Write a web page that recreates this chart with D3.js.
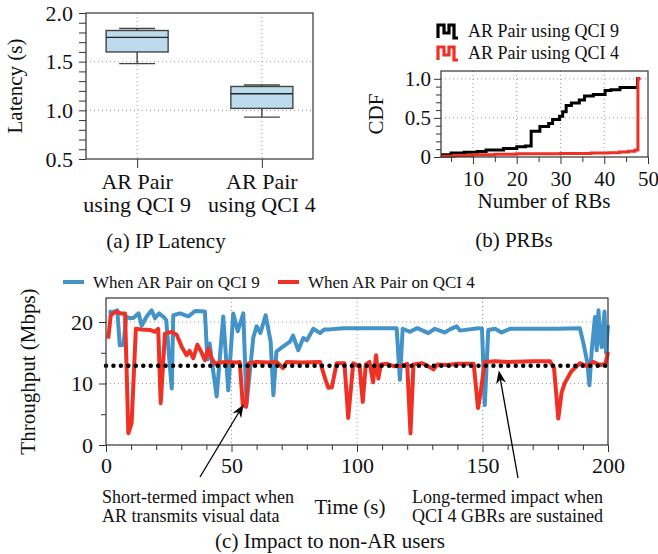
<!DOCTYPE html>
<html>
<head>
<meta charset="utf-8">
<script src="https://cdn.jsdelivr.net/npm/d3@7"></script>
<style>
body { margin: 0; background: #fff; }
svg text { font-family: "Liberation Serif", "Times New Roman", serif; fill: #111; }
</style>
</head>
<body>
<svg id="fig" width="658" height="554"></svg>
<script>
// ---- (a) IP latency box plot ----
var latCats = [["AR Pair", "using QCI 9"], ["AR Pair", "using QCI 4"]];
var latMin = [1.48, 0.93];
var latQ1 = [1.60, 1.02];
var latMed = [1.75, 1.17];
var latQ3 = [1.82, 1.245];
var latMax = [1.84, 1.26];
var latTicks = [0.5, 1.0, 1.5, 2.0];

// ---- (b) PRB CDF ----
var rbQci9 = [2.7, 5, 8, 11, 13, 17, 20, 22, 23.3, 25.3, 27.3, 28.2, 29.8, 30.5, 31.3, 32.5, 34.3, 35.5, 37.5, 40.2, 41.5, 43.6, 47.6, 48.2];
var cdfQci9 = [0.03, 0.05, 0.06, 0.07, 0.09, 0.11, 0.13, 0.14, 0.33, 0.39, 0.43, 0.48, 0.52, 0.58, 0.66, 0.69, 0.73, 0.78, 0.80, 0.85, 0.86, 0.89, 1.0, 1.0];
var rbQci4 = [2.7, 6, 10, 15, 20, 30, 37, 41, 43.5, 45.5, 47, 47.7, 48.3];
var cdfQci4 = [0.01, 0.02, 0.03, 0.035, 0.04, 0.045, 0.05, 0.055, 0.065, 0.075, 0.09, 1.0, 1.0];
var rbTicks = [10, 20, 30, 40, 50];
var cdfTicks = [0, 0.5, 1.0];
var cdfNames = ["AR Pair using QCI 9", "AR Pair using QCI 4"];

// ---- (c) throughput of non-AR users ----
var thrQci9 = [
  [1,21.7],[2.5,21.6],[4.5,21.9],[5.5,16.2],[7,16.3],[8,20.9],[9.5,20.6],[11,20.7],[13,21.4],[14.2,19.4],
  [16.2,20.9],[18.2,21.9],[19.5,20.6],[21.1,21.4],[23,20.8],[24,20.3],[25.2,14],[26.2,9.2],[26.8,21.1],[29.5,21.4],
  [32.8,20.9],[35.5,21.8],[39.4,21.7],[40.4,13.9],[41.3,16.5],[42.3,13.2],[44.1,7.9],[46.7,20.9],[48.7,8.9],[50.7,21.4],
  [52.5,18.5],[54.7,21.4],[56,6.6],[58.7,17.5],[60,19.3],[61.5,18.2],[63.6,21.1],[65.6,16.8],[66.7,8.1],[67.9,15.2],
  [70.5,16],[73.3,16.8],[74.5,17.8],[76.6,15.4],[78.6,17.4],[80,17.0],[82.6,18.9],[85.3,18.2],[87,18.8],[89.2,18.8],
  [94.5,19],[100,19],[110,19],[115.8,19],[117.1,10.6],[118.2,18.9],[121.1,18.4],[124,19],[128.4,18.2],[131,18.9],
  [134.9,18.3],[137,18.8],[139.7,19.3],[141,18.6],[148.3,19],[149.8,18.9],[150.9,6.5],[152.3,18.7],[155,18.9],[157.6,18.3],
  [161,18.9],[170,18.9],[180,18.9],[188.8,19],[190.5,16],[191.8,13.3],[192.6,9.7],[193.5,15.3],[194.8,20.8],[195.5,15.4],
  [196.2,21.9],[197,17],[197.5,15.9],[198.6,21.7],[199.2,15],[200,19.5]
];
var thrQci4 = [
  [0.9,17.3],[1.9,21.1],[4,21.7],[5.8,21.4],[7.6,21.4],[8.9,1.9],[10.2,3.5],[11.9,18.9],[14,18.8],[17.5,18.7],
  [19.5,18.4],[20.8,18.9],[21.8,6.8],[23.5,18.1],[26.2,18.4],[28.2,17.9],[30.1,16],[32.1,14.6],[33.3,15.3],[34.8,14.1],
  [36.4,16.3],[38,15.1],[39.4,13.8],[40.8,15.7],[42,14.2],[43.4,13.2],[45,13.4],[48,13.5],[52,13.4],[53.3,13.5],
  [54.5,6.5],[55.8,6.2],[56.9,13.3],[60,13.5],[65,13.4],[68,13.5],[70.5,12.5],[72,13.5],[78,13.4],[85.3,13.5],
  [87.3,10.8],[88.6,9.3],[90,9.4],[91.9,13.3],[95,13.3],[96.5,4.4],[98.5,13.3],[100,12.9],[101,13.0],[102.3,7],
  [103.5,13.1],[105,13.5],[106.4,10.2],[107.6,14.6],[108.5,10.8],[109.5,13.1],[112,13.2],[115,12.8],[118,12.9],[120,13.2],
  [121.3,1.9],[122.5,13.1],[126,13.3],[128,12.9],[130.5,12.3],[132,13.1],[136,13.0],[140,13.2],[146.5,13.2],[148.2,6],
  [149.1,8.1],[150.9,13.5],[155,13.6],[160,13.5],[170,13.6],[176.9,13.6],[178.5,12.5],[180.2,4.3],[181.5,8.5],[182.8,10.1],
  [185.4,12],[188.8,13.3],[191.8,12.8],[194,13.5],[197,13.0],[199,13.2],[200,15.1]
];
var thrRef = 12.9;
var thrNames = ["When AR Pair on QCI 9", "When AR Pair on QCI 4"];
var timeTicks = [0, 50, 100, 150, 200];
var thrTicks = [0, 10, 20];

var BLUE = '#4393c8', RED = '#ee3124', AX = '#333', GRID = '#999';
var svg = d3.select('#fig');

function frame(x0, y0, x1, y1) {
  svg.append('rect')
    .attr('x', x0).attr('y', y0)
    .attr('width', x1 - x0).attr('height', y1 - y0)
    .attr('fill', 'none').attr('stroke', AX).attr('stroke-width', 1.2);
}
function fixAxis(g, fs) {
  g.select('.domain').remove();
  g.selectAll('.tick line').attr('stroke', AX).attr('stroke-width', 1);
  g.selectAll('.tick text').style('font-size', fs + 'px').attr('fill', '#111');
  return g;
}
function minor(vals, major) {
  return vals.filter(function(v) {
    return !major.some(function(m) { return Math.abs(m - v) < 1e-6; });
  });
}
function grid(x0, x1, y0, y1, xs, ys) {
  var g = svg.append('g').attr('stroke', GRID).attr('stroke-width', 1).attr('stroke-dasharray', '1,3');
  xs.forEach(function(x) { g.append('line').attr('x1', x).attr('x2', x).attr('y1', y0).attr('y2', y1); });
  ys.forEach(function(y) { g.append('line').attr('x1', x0).attr('x2', x1).attr('y1', y).attr('y2', y); });
}
function label(x, y, txt, fs, rot, anchor) {
  var t = svg.append('text')
    .attr('text-anchor', anchor || 'middle')
    .style('font-size', fs + 'px')
    .text(txt);
  if (rot) t.attr('transform', 'translate(' + x + ',' + y + ') rotate(-90)');
  else t.attr('x', x).attr('y', y);
  return t;
}

// ================= (a) =================
var aL = 86, aR = 313, aT = 13, aB = 159;
var ax = d3.scalePoint().domain(d3.range(latCats.length)).range([aL, aR]).padding(0.41);
var ay = d3.scaleLinear().domain([0.5, 2.0]).range([aB, aT]);

grid(aL, aR, aT, aB, latCats.map(function(d, i) { return ax(i); }), [ay(1.0), ay(1.5)]);

var boxW = 62, capW = 36;
latCats.forEach(function(c, i) {
  var cx = ax(i), g = svg.append('g').attr('stroke', '#444').attr('stroke-width', 1.4);
  g.append('line').attr('x1', cx).attr('x2', cx).attr('y1', ay(latMin[i])).attr('y2', ay(latQ1[i]));
  g.append('line').attr('x1', cx).attr('x2', cx).attr('y1', ay(latQ3[i])).attr('y2', ay(latMax[i]));
  g.append('line').attr('x1', cx - capW / 2).attr('x2', cx + capW / 2).attr('y1', ay(latMin[i])).attr('y2', ay(latMin[i]));
  g.append('line').attr('x1', cx - capW / 2).attr('x2', cx + capW / 2).attr('y1', ay(latMax[i])).attr('y2', ay(latMax[i]));
  g.append('rect').attr('x', cx - boxW / 2).attr('y', ay(latQ3[i]))
    .attr('width', boxW).attr('height', ay(latQ1[i]) - ay(latQ3[i]))
    .attr('fill', '#bcdcee');
  g.append('line').attr('x1', cx - boxW / 2).attr('x2', cx + boxW / 2)
    .attr('y1', ay(latMed[i])).attr('y2', ay(latMed[i])).attr('stroke', '#222');
});

fixAxis(svg.append('g').attr('transform', 'translate(' + aL + ',0)')
  .call(d3.axisLeft(ay).tickValues(latTicks).tickFormat(d3.format('.1f')).tickSize(7).tickPadding(6)), 22);
fixAxis(svg.append('g').attr('transform', 'translate(' + aL + ',0)')
  .call(d3.axisLeft(ay).tickValues(minor(d3.range(0.5, 2.01, 0.1), latTicks)).tickFormat('').tickSize(7)), 22);
fixAxis(svg.append('g').attr('transform', 'translate(0,' + aB + ')')
  .call(d3.axisBottom(ax).tickFormat('').tickSize(9)), 22);
latCats.forEach(function(c, i) {
  var t = svg.append('text').attr('text-anchor', 'middle').style('font-size', '22px');
  t.append('tspan').attr('x', ax(i)).attr('y', 189).text(c[0]);
  t.append('tspan').attr('x', ax(i)).attr('y', 212).text(c[1]);
});
frame(aL, aT, aR, aB);
label(22, (aT + aB) / 2, 'Latency (s)', 21, true);
label(166, 248, '(a) IP Latency', 21);

// ================= (b) =================
var bL = 441, bR = 648, bT = 71, bB = 157;
var bx = d3.scaleLinear().domain([2.7, 50]).range([bL, bR]);
var by = d3.scaleLinear().domain([0, 1.1]).range([bB, bT]);

grid(bL, bR, bT, bB, [10, 20, 30, 40].map(bx), [0.5, 1.0].map(by));

var stepLine = d3.line().curve(d3.curveStepAfter)
  .x(function(d) { return bx(d[0]); }).y(function(d) { return by(d[1]); });
var cdfSeries = [
  { rb: rbQci9, cdf: cdfQci9, color: '#000' },
  { rb: rbQci4, cdf: cdfQci4, color: RED }
];
cdfSeries.forEach(function(s) {
  svg.append('path')
    .attr('d', stepLine(s.rb.map(function(r, i) { return [r, s.cdf[i]]; })))
    .attr('fill', 'none').attr('stroke', s.color).attr('stroke-width', 3);
});

fixAxis(svg.append('g').attr('transform', 'translate(' + bL + ',0)')
  .call(d3.axisLeft(by).tickValues(cdfTicks).tickFormat(function(d) { return d === 0 ? '0' : d3.format('.1f')(d); }).tickSize(7).tickPadding(3)), 21);
fixAxis(svg.append('g').attr('transform', 'translate(' + bL + ',0)')
  .call(d3.axisLeft(by).tickValues(minor(d3.range(0, 1.01, 0.1), cdfTicks)).tickFormat('').tickSize(5)), 21);
fixAxis(svg.append('g').attr('transform', 'translate(0,' + bB + ')')
  .call(d3.axisBottom(bx).tickValues(rbTicks).tickSize(7).tickPadding(7)), 21);
fixAxis(svg.append('g').attr('transform', 'translate(0,' + bB + ')')
  .call(d3.axisBottom(bx).tickValues([5, 15, 25, 35, 45]).tickFormat('').tickSize(5)), 21);
frame(bL, bT, bR, bB);
label(383, (bT + bB) / 2, 'CDF', 21, true);
label(544, 208, 'Number of RBs', 21);
label(514, 247, '(b) PRBs', 21);

cdfSeries.forEach(function(s, i) {
  var y0 = 25 + i * 22;
  svg.append('path')
    .attr('d', 'M438,' + (y0 + 13) + 'V' + y0 + 'H444V' + (y0 + 8) + 'H449V' + y0 + 'H454V' + (y0 + 13) + 'H458')
    .attr('fill', 'none').attr('stroke', s.color).attr('stroke-width', 3.2);
  label(468, y0 + 12, cdfNames[i], 18, false, 'start');
});

// ================= (c) =================
var cL = 106, cR = 608, cT = 298, cB = 445;
var cx = d3.scaleLinear().domain([0, 200]).range([cL, cR]);
var cy = d3.scaleLinear().domain([0, 24]).range([cB, cB - 24 * 6.15]);

grid(cL, cR, cT, cB, [50, 100, 150].map(cx), [10, 20].map(cy));

var thrLine = d3.line().x(function(d) { return cx(d[0]); }).y(function(d) { return cy(d[1]); });
[[thrQci9, BLUE], [thrQci4, RED]].forEach(function(s) {
  svg.append('path').attr('d', thrLine(s[0]))
    .attr('fill', 'none').attr('stroke', s[1]).attr('stroke-width', 4).attr('stroke-linejoin', 'round');
});
svg.append('line')
  .attr('x1', cx(0)).attr('x2', cx(200)).attr('y1', cy(thrRef)).attr('y2', cy(thrRef))
  .attr('stroke', '#000').attr('stroke-width', 4.5)
  .attr('stroke-linecap', 'round').attr('stroke-dasharray', '0,7.45');

fixAxis(svg.append('g').attr('transform', 'translate(' + cL + ',0)')
  .call(d3.axisLeft(cy).tickValues(thrTicks).tickSize(7).tickPadding(6)), 22);
fixAxis(svg.append('g').attr('transform', 'translate(' + cL + ',0)')
  .call(d3.axisLeft(cy).tickValues([5, 15]).tickFormat('').tickSize(5)), 22);
fixAxis(svg.append('g').attr('transform', 'translate(0,' + cB + ')')
  .call(d3.axisBottom(cx).tickValues(timeTicks).tickSize(7).tickPadding(5)), 22);
fixAxis(svg.append('g').attr('transform', 'translate(0,' + cB + ')')
  .call(d3.axisBottom(cx).tickValues(minor(d3.range(0, 201, 10), timeTicks)).tickFormat('').tickSize(5)), 22);
frame(cL, cT, cR, cB);
label(35, (cT + cB) / 2, 'Throughput (Mbps)', 21, true);
label(350, 514, 'Time (s)', 21);
label(330, 548, '(c) Impact to non-AR users', 21);

// legend (c)
[[63, BLUE], [278, RED]].forEach(function(l, i) {
  svg.append('line').attr('x1', l[0]).attr('x2', l[0] + 21).attr('y1', 282).attr('y2', 282)
    .attr('stroke', l[1]).attr('stroke-width', 4);
  label(l[0] + 30, 288, thrNames[i], 17, false, 'start');
});

// annotations
function arrow(x1, y1, x2, y2) {
  var a = Math.atan2(y2 - y1, x2 - x1), L = 13, W = 5;
  var bx0 = x2 - L * Math.cos(a), by0 = y2 - L * Math.sin(a);
  var nx = x2 - 0.7 * L * Math.cos(a), ny = y2 - 0.7 * L * Math.sin(a);
  svg.append('line').attr('x1', x1).attr('y1', y1).attr('x2', nx).attr('y2', ny)
    .attr('stroke', '#000').attr('stroke-width', 1.3);
  svg.append('path')
    .attr('d', 'M' + x2 + ',' + y2 +
      'L' + (bx0 - W * Math.sin(a)) + ',' + (by0 + W * Math.cos(a)) +
      'L' + nx + ',' + ny +
      'L' + (bx0 + W * Math.sin(a)) + ',' + (by0 - W * Math.cos(a)) + 'Z')
    .attr('fill', '#000');
}
arrow(200, 477, cx(54.8), cy(6.6));
arrow(518, 478, cx(156.5), cy(12.1));

label(102, 503, 'Short-termed impact when', 18, false, 'start');
label(102, 522, 'AR transmits visual data', 18, false, 'start');
label(412, 503, 'Long-termed impact when', 18, false, 'start');
label(412, 522, 'QCI 4 GBRs are sustained', 18, false, 'start');
</script>
</body>
</html>
